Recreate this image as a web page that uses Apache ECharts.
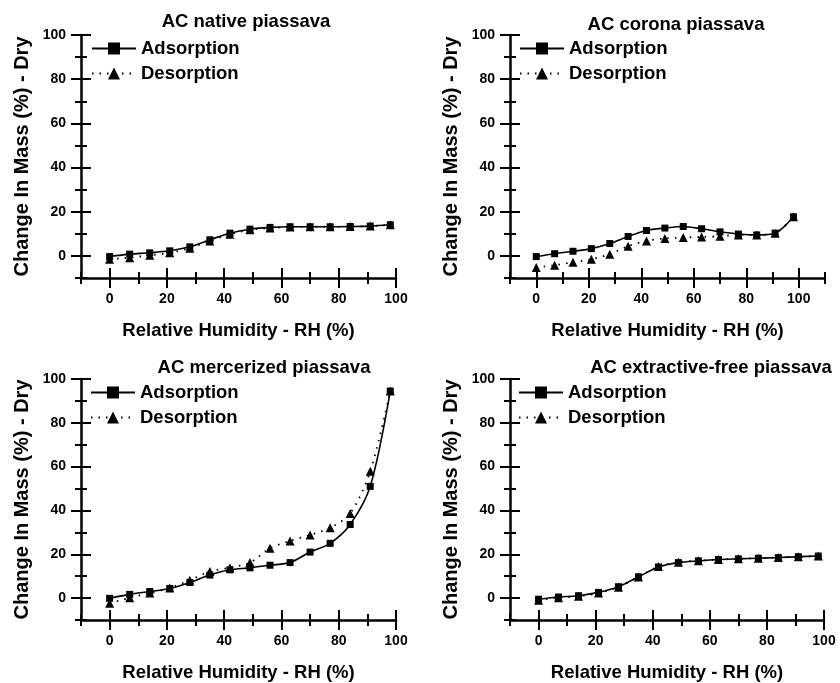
<!DOCTYPE html>
<html>
<head>
<meta charset="utf-8">
<script src="https://cdn.jsdelivr.net/npm/echarts@6/dist/echarts.min.js"></script>
<style>
  html, body { margin: 0; padding: 0; background: #fff; }
  #chart { width: 840px; height: 683px; }
</style>
</head>
<body>
<div id="chart"></div>
<script>
// Relative humidity steps (%)
const RH = [0, 7, 14, 21, 28, 35, 42, 49, 56, 63, 70, 77, 84, 91, 98];

// Change in mass (%) relative to dry mass
const nativeAds = [-0.3, 0.8, 1.4, 2.3, 4.1, 7.3, 10.3, 12.1, 12.9, 13.2, 13.2, 13.2, 13.3, 13.5, 14.1];
const nativeDes = [-1.5, -0.8, 0.3, 1.4, 3.5, 6.8, 9.8, 11.8, 12.6, 13.1, 13.2, 13.2, 13.3, 13.5, 14.1];

const coronaAds = [-0.3, 1.0, 2.1, 3.3, 5.6, 8.8, 11.5, 12.6, 13.3, 12.3, 10.9, 9.9, 9.5, 10.3, 17.7];
const coronaDes = [-5.3, -4.2, -2.9, -1.5, 0.8, 4.4, 6.8, 7.9, 8.3, 8.6, 8.9, 9.5, 9.5, 10.3, 17.7];

const mercAds = [-0.1, 1.7, 3.0, 4.4, 7.1, 10.5, 12.9, 13.8, 15.0, 16.2, 21.0, 25.0, 33.6, 51.0, 94.5];
const mercDes = [-2.3, 0.1, 2.3, 4.6, 8.2, 12.1, 13.9, 16.2, 22.8, 26.1, 28.8, 32.1, 38.6, 57.9, 94.5];

const extrAds = [-0.5, 0.5, 1.1, 2.6, 5.2, 9.7, 14.2, 16.2, 17.0, 17.6, 17.9, 18.2, 18.5, 18.9, 19.2];
const extrDes = [-1.0, 0.2, 0.8, 2.3, 5.0, 9.6, 14.4, 16.4, 17.1, 17.6, 17.9, 18.2, 18.5, 18.9, 19.2];

const titles = ['AC native piassava', 'AC corona piassava', 'AC mercerized piassava', 'AC extractive-free piassava'];
const seriesNames = ['Adsorption', 'Desorption'];

// Tick labels / tick positions
const xMajor = [0, 20, 40, 60, 80, 100];
const yMajor = [0, 20, 40, 60, 80, 100];
const xMinorShort = [-10, 10, 30, 50, 70, 90];
const xMinorLong = [-10, 10, 30, 50, 70, 90, 110];
const yMinor = [-10, 10, 30, 50, 70, 90];

const xName = 'Relative Humidity - RH (%)';
const yName = 'Change In Mass (%) - Dry';

const FONT = "'Liberation Sans', Arial, Helvetica, sans-serif";

const panels = [
  { ads: nativeAds, des: nativeDes, xMax: 100, xMinor: xMinorShort,
    grid: { left: 81, top: 35, width: 315, height: 243 },
    title: [246, 22], legend: { left: 91, top: 39 } },
  { ads: coronaAds, des: coronaDes, xMax: 110, xMinor: xMinorLong,
    grid: { left: 510, top: 35, width: 315, height: 243 },
    title: [676, 25], legend: { left: 519, top: 39 } },
  { ads: mercAds, des: mercDes, xMax: 100, xMinor: xMinorShort,
    grid: { left: 81, top: 379, width: 315, height: 242 },
    title: [264, 368], legend: { left: 90, top: 383 } },
  { ads: extrAds, des: extrDes, xMax: 100, xMinor: xMinorShort,
    grid: { left: 510, top: 379, width: 314, height: 243 },
    title: [711, 368], legend: { left: 518, top: 383 } }
];

const BLACK = '#000';
const grids = [], xAxes = [], yAxes = [], series = [], legends = [], graphics = [];

// Extra axis that only draws a set of ticks (used for the crossing tick marks)
function tickAxis(base, values, inside, len) {
  return Object.assign({}, base, {
    axisLine: { show: false, onZero: false },
    axisTick: { show: true, customValues: values, inside: inside, length: len,
                lineStyle: { color: BLACK, width: 2 } },
    axisLabel: { show: false },
    splitLine: { show: false },
    name: ''
  });
}

panels.forEach((p, i) => {
  grids.push(Object.assign({ containLabel: false }, p.grid));

  const xBase = { type: 'value', gridIndex: i, min: -10, max: p.xMax, position: 'bottom' };
  xAxes.push(Object.assign({}, xBase, {
    axisLine: { show: true, onZero: false, lineStyle: { color: BLACK, width: 2.5 } },
    axisTick: { show: true, customValues: xMajor, length: 10, lineStyle: { color: BLACK, width: 2 } },
    axisLabel: { customValues: xMajor, color: BLACK, fontFamily: FONT, fontWeight: 'bold', fontSize: 14, margin: 14 },
    splitLine: { show: false },
    name: xName, nameLocation: 'middle', nameGap: 43,
    nameTextStyle: { color: BLACK, fontFamily: FONT, fontWeight: 'bold', fontSize: 18.5 }
  }));
  xAxes.push(tickAxis(xBase, xMajor, true, 10));
  xAxes.push(tickAxis(xBase, p.xMinor, false, 6));
  xAxes.push(tickAxis(xBase, p.xMinor, true, 6));

  const yBase = { type: 'value', gridIndex: i, min: -10, max: 100, position: 'left' };
  yAxes.push(Object.assign({}, yBase, {
    axisLine: { show: true, onZero: false, lineStyle: { color: BLACK, width: 2.5 } },
    axisTick: { show: true, customValues: yMajor, length: 10, lineStyle: { color: BLACK, width: 2 } },
    axisLabel: { customValues: yMajor, color: BLACK, fontFamily: FONT, fontWeight: 'bold', fontSize: 14, margin: 15 },
    splitLine: { show: false },
    name: yName, nameLocation: 'middle', nameGap: 49,
    nameTextStyle: { color: BLACK, fontFamily: FONT, fontWeight: 'bold', fontSize: 20 }
  }));
  yAxes.push(tickAxis(yBase, yMajor, true, 10));
  yAxes.push(tickAxis(yBase, yMinor, false, 6));
  yAxes.push(tickAxis(yBase, yMinor, true, 6));

  series.push({
    name: seriesNames[0], type: 'line', xAxisIndex: i * 4, yAxisIndex: i * 4,
    data: RH.map((x, k) => [x, p.ads[k]]),
    smooth: 0.3, symbol: 'rect', symbolSize: 7,
    lineStyle: { color: BLACK, width: 1.6 },
    itemStyle: { color: BLACK }, z: 3
  });
  series.push({
    name: seriesNames[1], type: 'line', xAxisIndex: i * 4, yAxisIndex: i * 4,
    data: RH.map((x, k) => [x, p.des[k]]),
    smooth: 0.3, symbol: 'triangle', symbolSize: 9,
    lineStyle: { color: BLACK, width: 1.8, type: [1.5, 6] },
    itemStyle: { color: BLACK }, z: 2
  });

  legends.push({
    orient: 'vertical', left: p.legend.left, top: p.legend.top, padding: 0,
    data: seriesNames, itemWidth: 44, itemHeight: 15, itemGap: 6,
    selectedMode: false,
    textStyle: { color: BLACK, fontFamily: FONT, fontWeight: 'bold', fontSize: 18.5, padding: [0, 0, 0, 0] }
  });

  graphics.push({
    type: 'text', x: p.title[0], y: p.title[1],
    style: { text: titles[i], fill: BLACK, font: 'bold 18.5px ' + FONT, align: 'center', verticalAlign: 'middle' }
  });
});

const chart = echarts.init(document.getElementById('chart'), null, { renderer: 'canvas' });
chart.setOption({
  backgroundColor: '#fff',
  animation: false,
  grid: grids,
  xAxis: xAxes,
  yAxis: yAxes,
  legend: legends,
  graphic: graphics,
  series: series
});
</script>
</body>
</html>
